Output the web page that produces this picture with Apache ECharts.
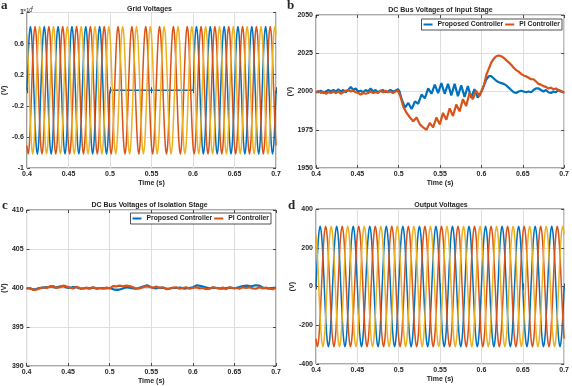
<!DOCTYPE html>
<html>
<head>
<meta charset="utf-8">
<title>Grid / DC bus / output voltages</title>
<script src="https://cdn.jsdelivr.net/npm/echarts/dist/echarts.min.js"></script>
<style>
html,body{margin:0;padding:0;background:#fff;}
#chart{width:572px;height:386px;}
</style>
</head>
<body>
<div id="chart"></div>
<script>
// tick labels
var timeTicks = ['0.4', '0.45', '0.5', '0.55', '0.6', '0.65', '0.7'];
var gridTicks = ['-1', '-0.6', '-0.2', '0.2', '0.6', '1'];
var inputTicks = ['1950', '1975', '2000', '2025', '2050'];
var isoTicks = ['390', '395', '400', '405', '410'];
var outTicks = ['-400', '-200', '0', '200', '400'];

// grid voltages (x10^4 V), 60 Hz, one sample every 30 deg from t = 0.4 s
var gridStep = 1 / 720;
var gridVa = [
  0,.41,.71,.82,.71,.41,0,-.41,-.71,-.82,-.71,-.41,
  0,.41,.71,.82,.71,.41,0,-.41,-.71,-.82,-.71,-.41,
  0,.41,.71,.82,.71,.41,0,-.41,-.71,-.82,-.71,-.41,
  0,.41,.71,.82,.71,.41,0,-.41,-.71,-.82,-.71,-.41,
  0,.41,.71,.82,.71,.41,0,-.41,-.71,-.82,-.71,-.41,
  0,.41,.71,.82,.71,.41,0,-.41,-.71,-.82,-.71,-.41,
  0,0,0,0,0,0,0,0,0,0,0,0,
  0,0,0,0,0,0,0,0,0,0,0,0,
  0,0,0,0,0,0,0,0,0,0,0,0,
  0,0,0,0,0,0,0,0,0,0,0,0,
  0,0,0,0,0,0,0,0,0,0,0,0,
  0,0,0,0,0,0,0,0,0,0,0,0,
  0,.41,.71,.82,.71,.41,0,-.41,-.71,-.82,-.71,-.41,
  0,.41,.71,.82,.71,.41,0,-.41,-.71,-.82,-.71,-.41,
  0,.41,.71,.82,.71,.41,0,-.41,-.71,-.82,-.71,-.41,
  0,.41,.71,.82,.71,.41,0,-.41,-.71,-.82,-.71,-.41,
  0,.41,.71,.82,.71,.41,0,-.41,-.71,-.82,-.71,-.41,
  0,.41,.71,.82,.71,.41,0,-.41,-.71,-.82,-.71,-.41,
  0
];
var gridVb = [
  -.71,-.82,-.71,-.41,0,.41,.71,.82,.71,.41,0,-.41,
  -.71,-.82,-.71,-.41,0,.41,.71,.82,.71,.41,0,-.41,
  -.71,-.82,-.71,-.41,0,.41,.71,.82,.71,.41,0,-.41,
  -.71,-.82,-.71,-.41,0,.41,.71,.82,.71,.41,0,-.41,
  -.71,-.82,-.71,-.41,0,.41,.71,.82,.71,.41,0,-.41,
  -.71,-.82,-.71,-.41,0,.41,.71,.82,.71,.41,0,-.41,
  -.71,-.82,-.71,-.41,0,.41,.71,.82,.71,.41,0,-.41,
  -.71,-.82,-.71,-.41,0,.41,.71,.82,.71,.41,0,-.41,
  -.71,-.82,-.71,-.41,0,.41,.71,.82,.71,.41,0,-.41,
  -.71,-.82,-.71,-.41,0,.41,.71,.82,.71,.41,0,-.41,
  -.71,-.82,-.71,-.41,0,.41,.71,.82,.71,.41,0,-.41,
  -.71,-.82,-.71,-.41,0,.41,.71,.82,.71,.41,0,-.41,
  -.71,-.82,-.71,-.41,0,.41,.71,.82,.71,.41,0,-.41,
  -.71,-.82,-.71,-.41,0,.41,.71,.82,.71,.41,0,-.41,
  -.71,-.82,-.71,-.41,0,.41,.71,.82,.71,.41,0,-.41,
  -.71,-.82,-.71,-.41,0,.41,.71,.82,.71,.41,0,-.41,
  -.71,-.82,-.71,-.41,0,.41,.71,.82,.71,.41,0,-.41,
  -.71,-.82,-.71,-.41,0,.41,.71,.82,.71,.41,0,-.41,
  -.71
];
var gridVc = [
  .71,.41,0,-.41,-.71,-.82,-.71,-.41,0,.41,.71,.82,
  .71,.41,0,-.41,-.71,-.82,-.71,-.41,0,.41,.71,.82,
  .71,.41,0,-.41,-.71,-.82,-.71,-.41,0,.41,.71,.82,
  .71,.41,0,-.41,-.71,-.82,-.71,-.41,0,.41,.71,.82,
  .71,.41,0,-.41,-.71,-.82,-.71,-.41,0,.41,.71,.82,
  .71,.41,0,-.41,-.71,-.82,-.71,-.41,0,.41,.71,.82,
  .71,.41,0,-.41,-.71,-.82,-.71,-.41,0,.41,.71,.82,
  .71,.41,0,-.41,-.71,-.82,-.71,-.41,0,.41,.71,.82,
  .71,.41,0,-.41,-.71,-.82,-.71,-.41,0,.41,.71,.82,
  .71,.41,0,-.41,-.71,-.82,-.71,-.41,0,.41,.71,.82,
  .71,.41,0,-.41,-.71,-.82,-.71,-.41,0,.41,.71,.82,
  .71,.41,0,-.41,-.71,-.82,-.71,-.41,0,.41,.71,.82,
  .71,.41,0,-.41,-.71,-.82,-.71,-.41,0,.41,.71,.82,
  .71,.41,0,-.41,-.71,-.82,-.71,-.41,0,.41,.71,.82,
  .71,.41,0,-.41,-.71,-.82,-.71,-.41,0,.41,.71,.82,
  .71,.41,0,-.41,-.71,-.82,-.71,-.41,0,.41,.71,.82,
  .71,.41,0,-.41,-.71,-.82,-.71,-.41,0,.41,.71,.82,
  .71,.41,0,-.41,-.71,-.82,-.71,-.41,0,.41,.71,.82,
  .71
];

// output voltages (V), 50 Hz, one sample every 30 deg from t = 0.4 s
var outStep = 1 / 600;
var outVa = [
  0,156,269,311,269,156,0,-156,-269,-311,-269,-156,
  0,156,269,311,269,156,0,-156,-269,-311,-269,-156,
  0,156,269,311,269,156,0,-156,-269,-311,-269,-156,
  0,156,269,311,269,156,0,-156,-269,-311,-269,-156,
  0,156,269,311,269,156,0,-156,-269,-311,-269,-156,
  0,156,269,311,269,156,0,-156,-269,-311,-269,-156,
  0,156,269,311,269,156,0,-156,-269,-311,-269,-156,
  0,156,269,311,269,156,0,-156,-269,-311,-269,-156,
  0,156,269,311,269,156,0,-156,-269,-311,-269,-156,
  0,156,269,311,269,156,0,-156,-269,-311,-269,-156,
  0,156,269,311,269,156,0,-156,-269,-311,-269,-156,
  0,156,269,311,269,156,0,-156,-269,-311,-269,-156,
  0,156,269,311,269,156,0,-156,-269,-311,-269,-156,
  0,156,269,311,269,156,0,-156,-269,-311,-269,-156,
  0,156,269,311,269,156,0,-156,-269,-311,-269,-156,
  0
];
var outVb = [
  -269,-311,-269,-156,0,156,269,311,269,156,0,-156,
  -269,-311,-269,-156,0,156,269,311,269,156,0,-156,
  -269,-311,-269,-156,0,156,269,311,269,156,0,-156,
  -269,-311,-269,-156,0,156,269,311,269,156,0,-156,
  -269,-311,-269,-156,0,156,269,311,269,156,0,-156,
  -269,-311,-269,-156,0,156,269,311,269,156,0,-156,
  -269,-311,-269,-156,0,156,269,311,269,156,0,-156,
  -269,-311,-269,-156,0,156,269,311,269,156,0,-156,
  -269,-311,-269,-156,0,156,269,311,269,156,0,-156,
  -269,-311,-269,-156,0,156,269,311,269,156,0,-156,
  -269,-311,-269,-156,0,156,269,311,269,156,0,-156,
  -269,-311,-269,-156,0,156,269,311,269,156,0,-156,
  -269,-311,-269,-156,0,156,269,311,269,156,0,-156,
  -269,-311,-269,-156,0,156,269,311,269,156,0,-156,
  -269,-311,-269,-156,0,156,269,311,269,156,0,-156,
  -269
];
var outVc = [
  269,156,0,-156,-269,-311,-269,-156,0,156,269,311,
  269,156,0,-156,-269,-311,-269,-156,0,156,269,311,
  269,156,0,-156,-269,-311,-269,-156,0,156,269,311,
  269,156,0,-156,-269,-311,-269,-156,0,156,269,311,
  269,156,0,-156,-269,-311,-269,-156,0,156,269,311,
  269,156,0,-156,-269,-311,-269,-156,0,156,269,311,
  269,156,0,-156,-269,-311,-269,-156,0,156,269,311,
  269,156,0,-156,-269,-311,-269,-156,0,156,269,311,
  269,156,0,-156,-269,-311,-269,-156,0,156,269,311,
  269,156,0,-156,-269,-311,-269,-156,0,156,269,311,
  269,156,0,-156,-269,-311,-269,-156,0,156,269,311,
  269,156,0,-156,-269,-311,-269,-156,0,156,269,311,
  269,156,0,-156,-269,-311,-269,-156,0,156,269,311,
  269,156,0,-156,-269,-311,-269,-156,0,156,269,311,
  269,156,0,-156,-269,-311,-269,-156,0,156,269,311,
  269
];

// DC bus of input stage [t, V]
var inputProposed = [
  [0.400,2000],[0.403,1999.5],[0.406,2000.5],[0.409,1999],[0.412,2000],[0.415,2001],[0.418,2000],
  [0.421,2001],[0.424,2000],[0.427,2001.5],[0.430,2000],[0.433,2001],[0.436,1999.5],[0.439,2001],
  [0.442,2003],[0.445,2001],[0.448,2002],[0.451,2000],[0.454,2000.5],[0.457,1999.5],[0.460,2001],
  [0.463,2000],[0.466,2002],[0.469,2000],[0.472,2001],[0.475,1999.5],[0.478,2000.5],[0.481,2001],
  [0.484,1999.5],[0.487,2000],[0.490,2001],[0.493,2000],[0.496,2000.5],[0.499,2001.5],[0.501,2000],
  [0.502,1998],[0.5036,1995],[0.5076,1989.5],[0.5116,1992.5],[0.5156,1988.5],[0.5196,1993.5],
  [0.5236,1992],[0.5276,1998],[0.5316,1995.5],[0.5356,2002],[0.5396,1998.5],[0.5436,2004.5],
  [0.5476,1999],[0.5516,2005.5],[0.5556,1998.5],[0.5596,2005],[0.5636,1997.5],[0.5676,2005],
  [0.5716,1997],[0.5756,2004],[0.5796,1996.5],[0.5836,2003.5],[0.5876,1996],[0.5916,2001.5],
  [0.5956,1996],[0.600,2000],
  [0.603,2004],[0.606,2008],[0.609,2010],[0.612,2010],[0.615,2008.5],[0.618,2007],[0.621,2006],
  [0.624,2005.5],[0.627,2005],[0.630,2004],[0.633,2002.5],[0.636,2001],[0.639,1999.5],[0.642,1999],
  [0.645,2000],[0.648,2000.5],[0.651,2000],[0.654,1999.5],[0.657,2000],[0.660,1999.5],[0.663,2001],
  [0.666,2002],[0.669,2002],[0.672,2001],[0.675,2000],[0.678,2001],[0.681,1999.5],[0.684,1999],
  [0.687,2000],[0.690,1999.5],[0.693,2001],[0.696,2000],[0.700,1999.5]
];
var inputPI = [
  [0.400,1999],[0.403,2000.5],[0.406,1999],[0.409,2000],[0.412,1998.5],[0.415,1999.5],[0.418,1999],
  [0.421,2000],[0.424,1999],[0.427,2000],[0.430,1998.5],[0.433,1999.5],[0.436,2000.5],[0.439,2001],
  [0.442,2000],[0.445,2000.5],[0.448,1999.5],[0.451,1999],[0.454,1998],[0.457,1999],[0.460,1998.5],
  [0.463,1999],[0.466,2000],[0.469,1999],[0.472,1999.5],[0.475,1999],[0.478,2000.5],[0.481,1999.5],
  [0.484,2000.5],[0.487,1999.5],[0.490,2000],[0.493,1999],[0.496,2000],[0.499,2000.5],[0.501,1999.5],
  [0.502,1997],[0.504,1993],[0.5056,1990],[0.5096,1986],[0.5136,1983],[0.5176,1980.5],[0.5216,1983],
  [0.5256,1978.5],[0.5296,1976.5],[0.5336,1975],[0.5376,1979.5],[0.5416,1976.5],[0.5456,1983],
  [0.5496,1978.5],[0.5536,1986],[0.5576,1981.5],[0.5616,1989],[0.5656,1984],[0.5696,1991.5],
  [0.5736,1987],[0.5776,1995],[0.5816,1990.5],[0.5856,1999],[0.5896,1995],[0.5936,2000.5],
  [0.5976,1997],[0.600,1998],
  [0.603,2004],[0.606,2011],[0.609,2015],[0.612,2019],[0.615,2021.5],[0.618,2023],[0.621,2023.5],
  [0.624,2023],[0.627,2022],[0.630,2020.5],[0.633,2019],[0.636,2017.5],[0.639,2015.5],[0.642,2014],
  [0.645,2013],[0.648,2011.5],[0.651,2010.5],[0.654,2010],[0.657,2009],[0.660,2008],[0.663,2008],
  [0.666,2006.5],[0.669,2005],[0.672,2004.5],[0.675,2003.5],[0.678,2003],[0.681,2002],[0.684,2002.5],
  [0.687,2001.5],[0.690,2002],[0.693,2001],[0.696,2000.5],[0.700,1999]
];

// DC bus of isolation stage [t, V]
var isoProposed = [
  [0.400,400.0],[0.405,399.9],[0.410,399.8],[0.415,400.0],[0.420,400.05],[0.425,400.1],[0.430,400.2],
  [0.435,400.05],[0.440,400.2],[0.445,400.2],[0.450,400.0],[0.455,400.1],[0.460,400.1],[0.465,399.9],
  [0.470,400.0],[0.475,399.95],[0.480,400.05],[0.485,399.9],[0.490,400.0],[0.495,399.95],[0.500,400.0],
  [0.505,399.8],[0.510,399.75],[0.515,399.9],[0.520,400.1],[0.525,400.0],[0.530,399.9],[0.535,400.0],
  [0.540,400.2],[0.545,400.35],[0.550,400.1],[0.555,399.95],[0.560,400.05],[0.565,400.0],[0.570,399.9],
  [0.575,400.0],[0.580,400.0],[0.585,400.05],[0.590,399.9],[0.595,400.0],[0.600,400.1],[0.605,400.35],
  [0.610,400.25],[0.615,400.1],[0.620,399.95],[0.625,400.05],[0.630,400.0],[0.635,399.9],[0.640,400.0],
  [0.645,400.05],[0.650,399.95],[0.655,400.1],[0.660,400.25],[0.665,400.3],[0.670,400.2],[0.675,400.35],
  [0.680,400.3],[0.685,400.0],[0.690,399.95],[0.695,400.0],[0.700,400.05]
];
var isoPI = [
  [0.400,399.9],[0.404,400.0],[0.408,399.75],[0.412,399.8],[0.416,399.95],[0.420,400.1],[0.424,400.0],
  [0.428,400.2],[0.432,400.25],[0.436,400.0],[0.440,400.1],[0.444,400.3],[0.448,400.2],[0.452,400.05],
  [0.456,399.95],[0.460,400.15],[0.464,400.0],[0.468,399.9],[0.472,400.05],[0.476,399.9],[0.480,400.1],
  [0.484,399.95],[0.488,400.0],[0.492,399.9],[0.496,400.05],[0.500,399.95],[0.504,400.25],[0.508,400.2],
  [0.512,400.3],[0.516,400.2],[0.520,400.3],[0.524,400.25],[0.528,400.1],[0.532,399.9],[0.536,399.95],
  [0.540,400.1],[0.544,400.2],[0.548,400.15],[0.552,400.0],[0.556,400.2],[0.560,400.0],[0.564,400.1],
  [0.568,399.85],[0.572,399.9],[0.576,400.05],[0.580,400.1],[0.584,399.9],[0.588,400.0],[0.592,400.1],
  [0.596,399.9],[0.600,400.0],[0.604,400.1],[0.608,399.95],[0.612,400.0],[0.616,399.85],[0.620,399.9],
  [0.624,400.1],[0.628,400.0],[0.632,399.9],[0.636,400.05],[0.640,399.85],[0.644,400.1],[0.648,400.0],
  [0.652,400.0],[0.656,399.9],[0.660,400.1],[0.664,400.0],[0.668,400.1],[0.672,399.95],[0.676,399.9],
  [0.680,400.1],[0.684,399.95],[0.688,400.05],[0.692,399.9],[0.696,399.85],[0.700,400.0]
];

var C_BLUE = '#0072BD', C_RED = '#D95319', C_YEL = '#EDB120';
var INK = '#262626';
var FONT = '"Liberation Sans", Arial, sans-serif';
var txt = { fontFamily: FONT, fontSize: 7, fontWeight: 'bold', color: INK };

// plot boxes
var boxes = [
  { left: 23, top: 12.5, width: 253, height: 155.5 },
  { left: 316, top: 15, width: 249, height: 153 },
  { left: 23, top: 210, width: 253, height: 156 },
  { left: 316, top: 209, width: 250, height: 155 }
];
var yRanges = [
  { min: -1, max: 1, interval: 0.4, ticks: gridTicks, gap: 13 },
  { min: 1950, max: 2050, interval: 25, ticks: inputTicks, gap: 20 },
  { min: 390, max: 410, interval: 5, ticks: isoTicks, gap: 13 },
  { min: -400, max: 400, interval: 200, ticks: outTicks, gap: 18 }
];

function toPairs(vals, step) {
  return vals.map(function (v, i) { return [0.4 + i * step, v]; });
}
function tick() { return { show: true, inside: true, length: 3, lineStyle: { color: INK, width: 0.8 } }; }

var xAxes = [], yAxes = [];
boxes.forEach(function (b, i) {
  xAxes.push({
    type: 'value', gridIndex: i, min: 0.4, max: 0.7, interval: 0.05,
    name: 'Time (s)', nameLocation: 'middle', nameGap: 12, nameTextStyle: txt,
    axisLine: { show: false }, axisTick: tick(),
    axisLabel: Object.assign({ margin: 3, formatter: function (v) { return timeTicks[Math.round((v - 0.4) / 0.05)]; } }, txt),
    splitLine: { show: true, lineStyle: { color: '#dedede', width: 1 } }
  });
  var r = yRanges[i];
  yAxes.push({
    type: 'value', gridIndex: i, min: r.min, max: r.max, interval: r.interval,
    name: '(V)', nameLocation: 'middle', nameGap: r.gap, nameRotate: 90, nameTextStyle: txt,
    axisLine: { show: false }, axisTick: tick(),
    axisLabel: Object.assign({ margin: 3, formatter: function (v) { return r.ticks[Math.round((v - r.min) / r.interval)]; } }, txt),
    splitLine: { show: true, lineStyle: { color: '#dedede', width: 1 } }
  });
});
// mirrored ticks on top / right (box on)
boxes.forEach(function (b, i) {
  xAxes.push({ type: 'value', gridIndex: i, position: 'top', min: 0.4, max: 0.7, interval: 0.05,
    axisLine: { show: false }, axisTick: tick(), axisLabel: { show: false }, splitLine: { show: false } });
  var r = yRanges[i];
  yAxes.push({ type: 'value', gridIndex: i, position: 'right', min: r.min, max: r.max, interval: r.interval,
    axisLine: { show: false }, axisTick: tick(), axisLabel: { show: false }, splitLine: { show: false } });
});

function line(name, gi, color, data, width, smooth) {
  return {
    name: name, type: 'line', xAxisIndex: gi, yAxisIndex: gi, data: data,
    showSymbol: false, symbol: 'none', smooth: smooth || false,
    lineStyle: { color: color, width: width }, itemStyle: { color: color }
  };
}

var series = [
  line('Va', 0, C_BLUE, toPairs(gridVa, gridStep), 1.5, 0.4),
  line('Vb', 0, C_RED, toPairs(gridVb, gridStep), 1.5, 0.4),
  line('Vc', 0, C_YEL, toPairs(gridVc, gridStep), 1.5, 0.4),
  line('Proposed Controller', 1, C_BLUE, inputProposed, 2.2),
  line('PI Controller', 1, C_RED, inputPI, 2.2),
  line('Proposed Controller', 2, C_BLUE, isoProposed, 2.2),
  line('PI Controller', 2, C_RED, isoPI, 2.2),
  line('Vao', 3, C_BLUE, toPairs(outVa, outStep), 1.5, 0.4),
  line('Vbo', 3, C_RED, toPairs(outVb, outStep), 1.5, 0.4),
  line('Vco', 3, C_YEL, toPairs(outVc, outStep), 1.5, 0.4)
];

function legendAt(right, top) {
  return {
    right: right, top: top, orient: 'horizontal', selectedMode: false,
    data: ['Proposed Controller', 'PI Controller'],
    icon: 'rect', itemWidth: 9, itemHeight: 2, itemGap: 2, padding: [2, 2],
    backgroundColor: '#fff', borderColor: INK, borderWidth: 0.8,
    textStyle: Object.assign({}, txt, { fontSize: 6.8 })
  };
}

function label(text, x, y, size, bold, family, align) {
  return { type: 'text', x: x, y: y, z: 100, style: {
    text: text, fill: INK, textAlign: align || 'center', textVerticalAlign: 'middle',
    font: (bold ? 'bold ' : '') + size + 'px ' + family } };
}

var graphics = [
  label('Grid Voltages', 149.5, 9, 7, true, FONT),
  label('DC Bus Voltages of Input Stage', 440.5, 10, 7, true, FONT),
  label('DC Bus Voltages of Isolation Stage', 149.5, 205.5, 7, true, FONT),
  label('Output Voltages', 441, 205.5, 7, true, FONT),
  label('a', 1, 6, 13, true, '"Liberation Serif", serif', 'left'),
  label('b', 287, 6, 13, true, '"Liberation Serif", serif', 'left'),
  label('c', 2, 206, 13, true, '"Liberation Serif", serif', 'left'),
  label('d', 288, 206, 13, true, '"Liberation Serif", serif', 'left'),
  label('\u00d710', 23, 10.3, 5.5, false, FONT, 'left'),
  label('4', 31, 8, 4, false, FONT, 'left')
];

var chart = echarts.init(document.getElementById('chart'), null, { renderer: 'canvas' });
chart.setOption({
  animation: false,
  backgroundColor: '#fff',
  grid: boxes.map(function (b) {
    return Object.assign({ show: true, borderColor: INK, borderWidth: 0.8, backgroundColor: '#fff', containLabel: false }, b);
  }),
  xAxis: xAxes,
  yAxis: yAxes,
  legend: [legendAt(10, 19), legendAt(301, 213)],
  graphic: graphics,
  series: series
});
</script>
</body>
</html>
